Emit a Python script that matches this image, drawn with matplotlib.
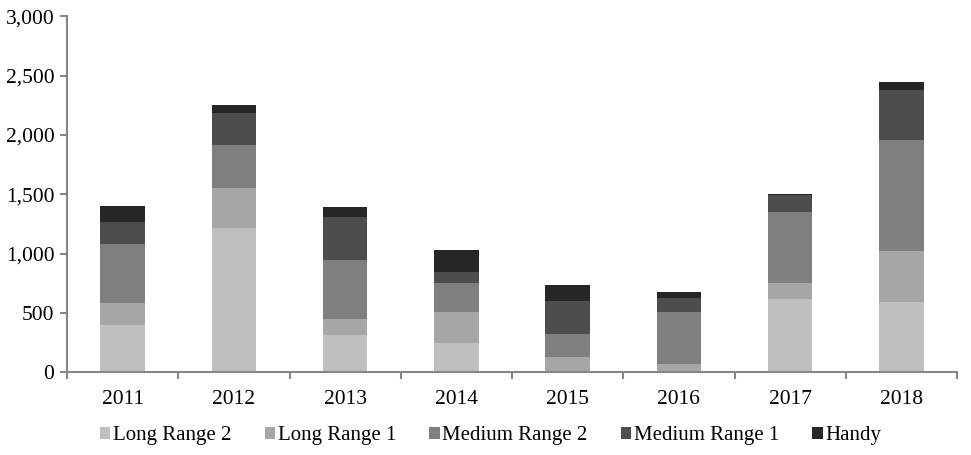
"""Stacked bar chart of vessel deliveries by size class, 2011-2018."""

import matplotlib

matplotlib.use("Agg")

import matplotlib.pyplot as plt
import numpy as np

years = ["2011", "2012", "2013", "2014", "2015", "2016", "2017", "2018"]
long_range_2 = [400, 1216, 314, 247, 0, 0, 618, 595]
long_range_1 = [185, 335, 135, 261, 132, 70, 137, 428]
medium_range_2 = [500, 366, 498, 245, 191, 438, 596, 935]
medium_range_1 = [185, 269, 362, 93, 281, 118, 144, 422]
handy = [135, 67, 85, 185, 132, 51, 8, 67]

series_names = ["Long Range 2", "Long Range 1", "Medium Range 2", "Medium Range 1", "Handy"]
series_colors = ["#bfbfbf", "#a6a6a6", "#7f7f7f", "#4d4d4d", "#262626"]

plt.rcParams["font.family"] = ["Liberation Serif", "DejaVu Serif"]

fig = plt.figure(figsize=(9.71, 4.55), dpi=100)
ax = fig.add_axes([0.069, 0.182, 0.9166, 0.782])

x = np.arange(len(years))
bottom = np.zeros(len(years))
for name, values, color in zip(
    series_names,
    [long_range_2, long_range_1, medium_range_2, medium_range_1, handy],
    series_colors,
):
    ax.bar(x, values, width=0.4, bottom=bottom, color=color, label=name)
    bottom += np.array(values)

ax.set_xlim(-0.5, len(years) - 0.5)
ax.set_ylim(0, 3000)
ax.set_yticks(range(0, 3001, 500))
ax.set_yticklabels([f"{v:,}" for v in range(0, 3001, 500)])
ax.set_xticks(x)
ax.set_xticklabels(years)
ax.set_xticks(np.arange(-0.5, len(years)), minor=True)

spine_color = "#868686"
for side in ["top", "right"]:
    ax.spines[side].set_visible(False)
for side in ["left", "bottom"]:
    ax.spines[side].set_color(spine_color)
    ax.spines[side].set_linewidth(1.5)

ax.tick_params(axis="y", direction="out", length=5, width=1.5, color=spine_color,
               labelsize=15.5, pad=4)
ax.tick_params(axis="x", which="major", length=0, labelsize=15.5, pad=13)
ax.tick_params(axis="x", which="minor", direction="out", length=5, width=1.5,
               color=spine_color)

ax.legend(
    loc="center left",
    bbox_to_anchor=(0.016, -0.178),
    ncol=5,
    frameon=False,
    fontsize=15,
    handlelength=0.5,
    handleheight=0.5,
    handletextpad=0.12,
    columnspacing=1.6,
)

fig.savefig("out.png", dpi=100)
plt.close(fig)
